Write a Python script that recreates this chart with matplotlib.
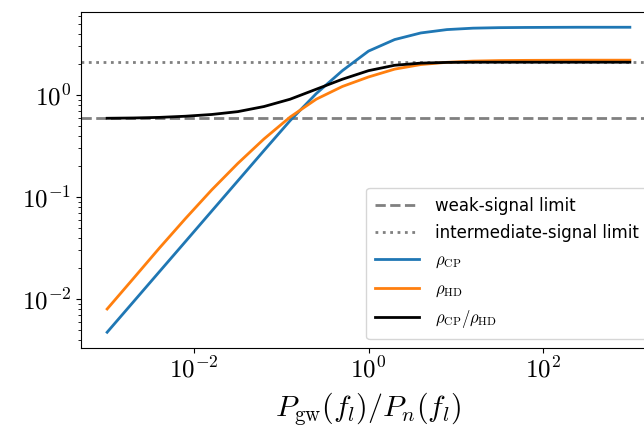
import numpy as np
import matplotlib
matplotlib.use("Agg")
import matplotlib.pyplot as plt
from matplotlib.ticker import FuncFormatter, NullLocator

plt.rcParams['mathtext.fontset'] = 'cm'

# P_gw / P_n grid (log-spaced, 0.3 dex steps)
snr_ratio = [1.000e-3, 1.995e-3, 3.981e-3, 7.943e-3, 1.585e-2, 3.162e-2, 6.310e-2,
             1.259e-1, 2.512e-1, 5.012e-1, 1.000e0, 1.995e0, 3.981e0, 7.943e0,
             1.585e1, 3.162e1, 6.310e1, 1.259e2, 2.512e2, 5.012e2, 1.000e3]

rho_cp = [0.00472, 0.00935, 0.01854, 0.0367, 0.0728, 0.1442, 0.2858, 0.562,
          1.035, 1.738, 2.704, 3.508, 4.074, 4.395, 4.539, 4.592, 4.613,
          4.624, 4.634, 4.634, 4.634]

rho_hd = [0.00798, 0.01585, 0.03162, 0.0617, 0.1175, 0.2138, 0.3715, 0.6095,
          0.912, 1.216, 1.507, 1.799, 1.995, 2.099, 2.158, 2.183, 2.193,
          2.198, 2.203, 2.203, 2.203]

rho_ratio = [0.593, 0.597, 0.605, 0.621, 0.646, 0.689, 0.773, 0.912, 1.143,
             1.432, 1.738, 1.963, 2.061, 2.094, 2.104, 2.104, 2.104, 2.104,
             2.104, 2.104, 2.104]

weak_limit = 0.59
intermediate_limit = 2.1

fig = plt.figure(figsize=(6.44, 4.28), dpi=100)
ax = fig.add_axes([81 / 644, 80.5 / 428, 575 / 644, 335.5 / 428])

ax.axhline(weak_limit, color='grey', ls='--', lw=2, label='weak-signal limit')
ax.axhline(intermediate_limit, color='grey', ls=':', lw=2, label='intermediate-signal limit')
ax.plot(snr_ratio, rho_cp, color='C0', lw=2, label=r'$\rho_{\rm CP}$')
ax.plot(snr_ratio, rho_hd, color='C1', lw=2, label=r'$\rho_{\rm HD}$')
ax.plot(snr_ratio, rho_ratio, color='k', lw=2, label=r'$\rho_{\rm CP}/\rho_{\rm HD}$')

ax.set_xscale('log')
ax.set_yscale('log')
ax.set_xticks([1e-2, 1e0, 1e2])
ax.xaxis.set_minor_locator(NullLocator())
fmt = FuncFormatter(lambda v, p: r'$10^{%d}$' % round(np.log10(v)))
ax.xaxis.set_major_formatter(fmt)
ax.yaxis.set_major_formatter(fmt)
ax.tick_params(labelsize=18)

ax.set_xlabel(r'$P_{\rm gw}(f_l)/P_n(f_l)$', fontsize=21.5, labelpad=5)
ax.legend(loc='lower right', fontsize=12, handlelength=2.6, handletextpad=0.95,
          labelspacing=0.55, borderpad=0.55)

fig.savefig('out.png', dpi=100)
